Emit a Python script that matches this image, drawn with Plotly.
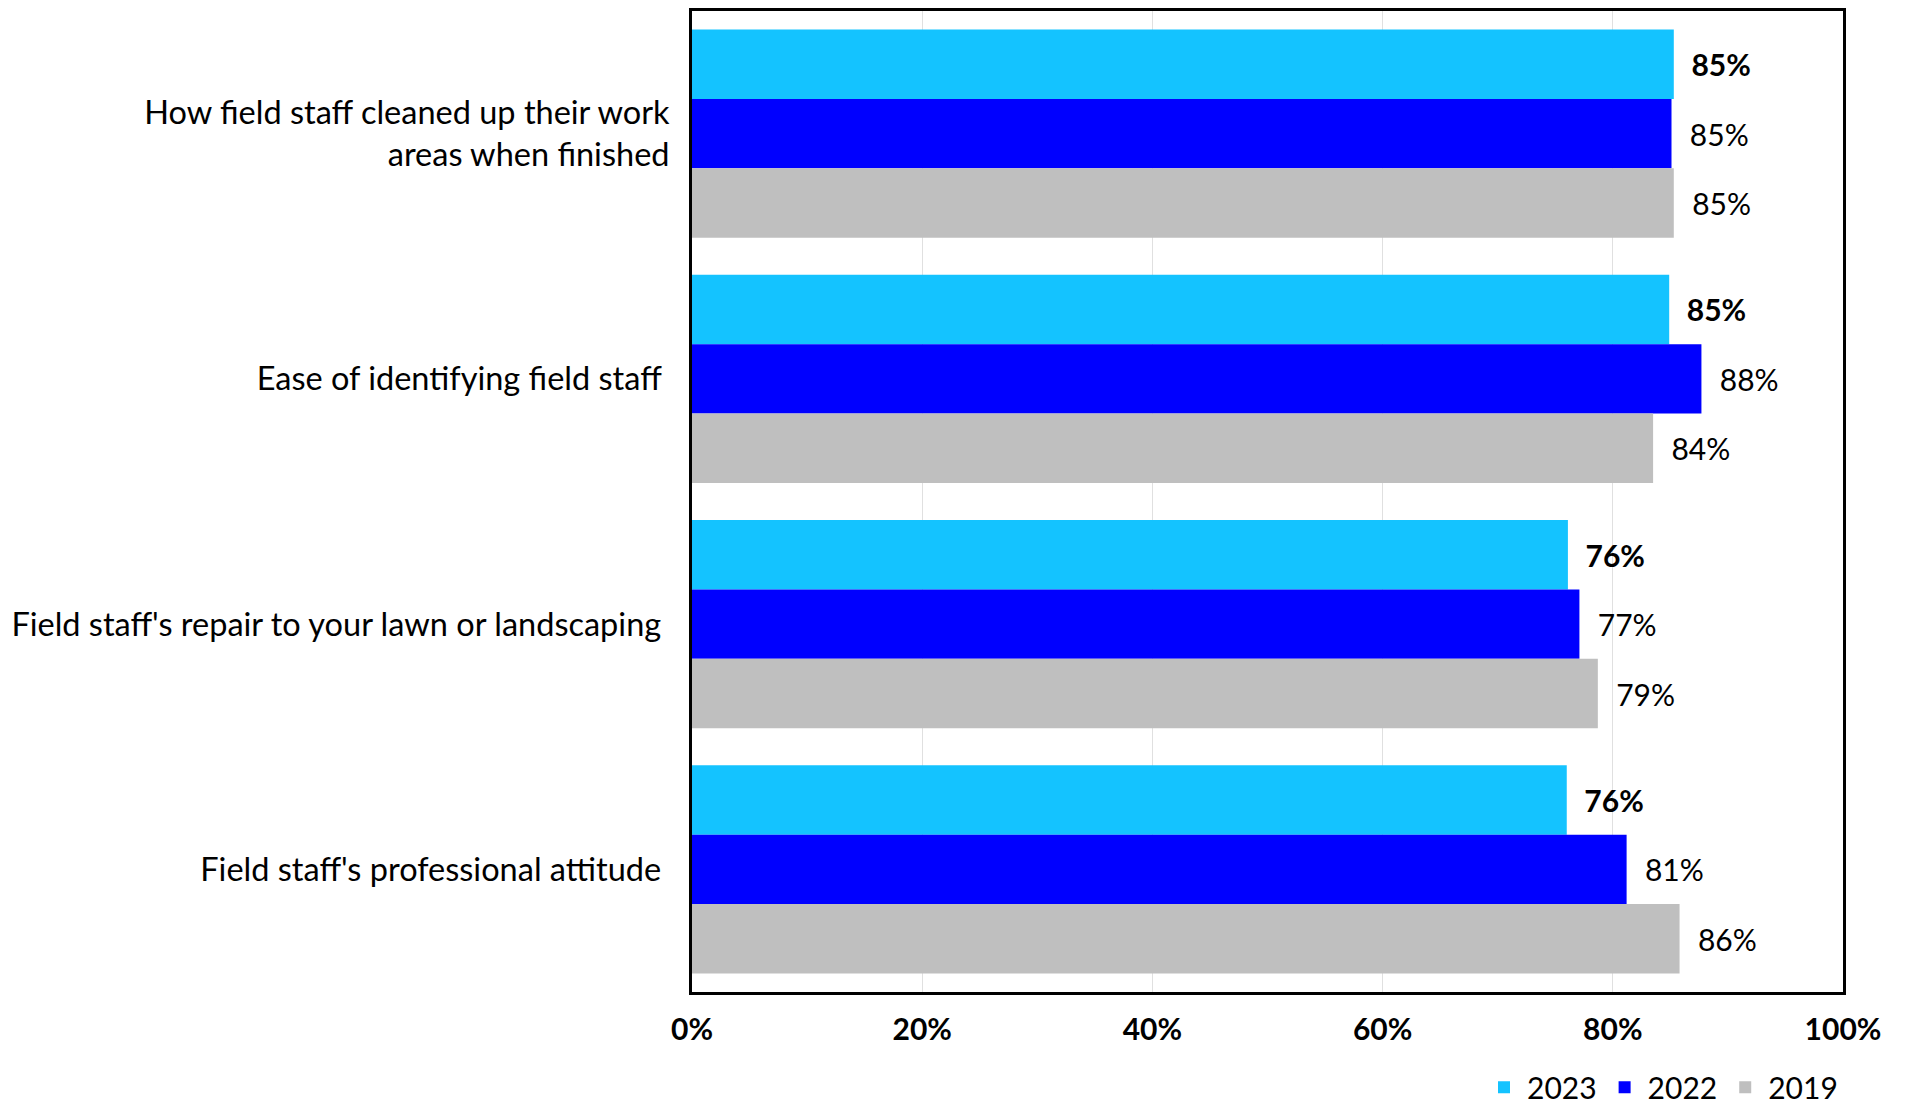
import plotly.graph_objects as go

categories = [
    "How field staff cleaned up their work<br>areas when finished",
    "Ease of identifying field staff ",
    "Field staff's repair to your lawn or landscaping ",
    "Field staff's professional attitude ",
]
series_names = ["2023", "2022", "2019"]
values_2023 = [85.3, 84.9, 76.1, 76.0]
values_2022 = [85.1, 87.7, 77.1, 81.2]
values_2019 = [85.3, 83.5, 78.7, 85.8]
tick_vals = [0, 20, 40, 60, 80, 100]
tick_text = ["0%", "20%", "40%", "60%", "80%", "100%"]

colors = ["#14c3ff", "#0000ff", "#bfbfbf"]
FONT = "Lato"

fig = go.Figure()
for name, vals, col, bold in zip(series_names, [values_2023, values_2022, values_2019], colors, [True, False, False]):
    fig.add_trace(go.Bar(
        y=categories, x=vals, name=name, orientation="h",
        marker=dict(color=col, line=dict(width=0)),
        texttemplate="\u00a0\u00a0%{x:.0f}%",
        textposition="outside",
        constraintext="none",
        cliponaxis=False,
        textfont=dict(family=FONT, size=30, color="black", weight="bold" if bold else "normal"),
        hoverinfo="skip",
    ))

fig.update_layout(
    barmode="group",
    bargap=0.15,
    bargroupgap=0,
    width=1898, height=1100,
    margin=dict(l=684, r=63, t=3, b=116, autoexpand=False),
    plot_bgcolor="white", paper_bgcolor="white",
    font=dict(family=FONT, size=30, color="black"),
    legend=dict(orientation="h", x=1.0, xanchor="right", y=-0.097, yanchor="middle",
                font=dict(family=FONT, size=30), traceorder="normal", itemwidth=36,
                borderwidth=0),
    showlegend=True,
)
fig.update_xaxes(range=[0, 100], tickvals=tick_vals, ticktext=tick_text,
                 tickfont=dict(family=FONT, size=30, weight="bold"),
                 showgrid=True, gridcolor="#e0e0e0", gridwidth=1,
                 showline=True, linecolor="black", linewidth=3, mirror=True,
                 ticks="", ticklabelstandoff=9, zeroline=False, automargin=False)
fig.update_yaxes(autorange="reversed", showline=True, linecolor="black", linewidth=3,
                 mirror=True, ticks="", ticklabelstandoff=13, automargin=False,
                 tickfont=dict(family=FONT, size=32.5))

fig.write_html("out.html")
